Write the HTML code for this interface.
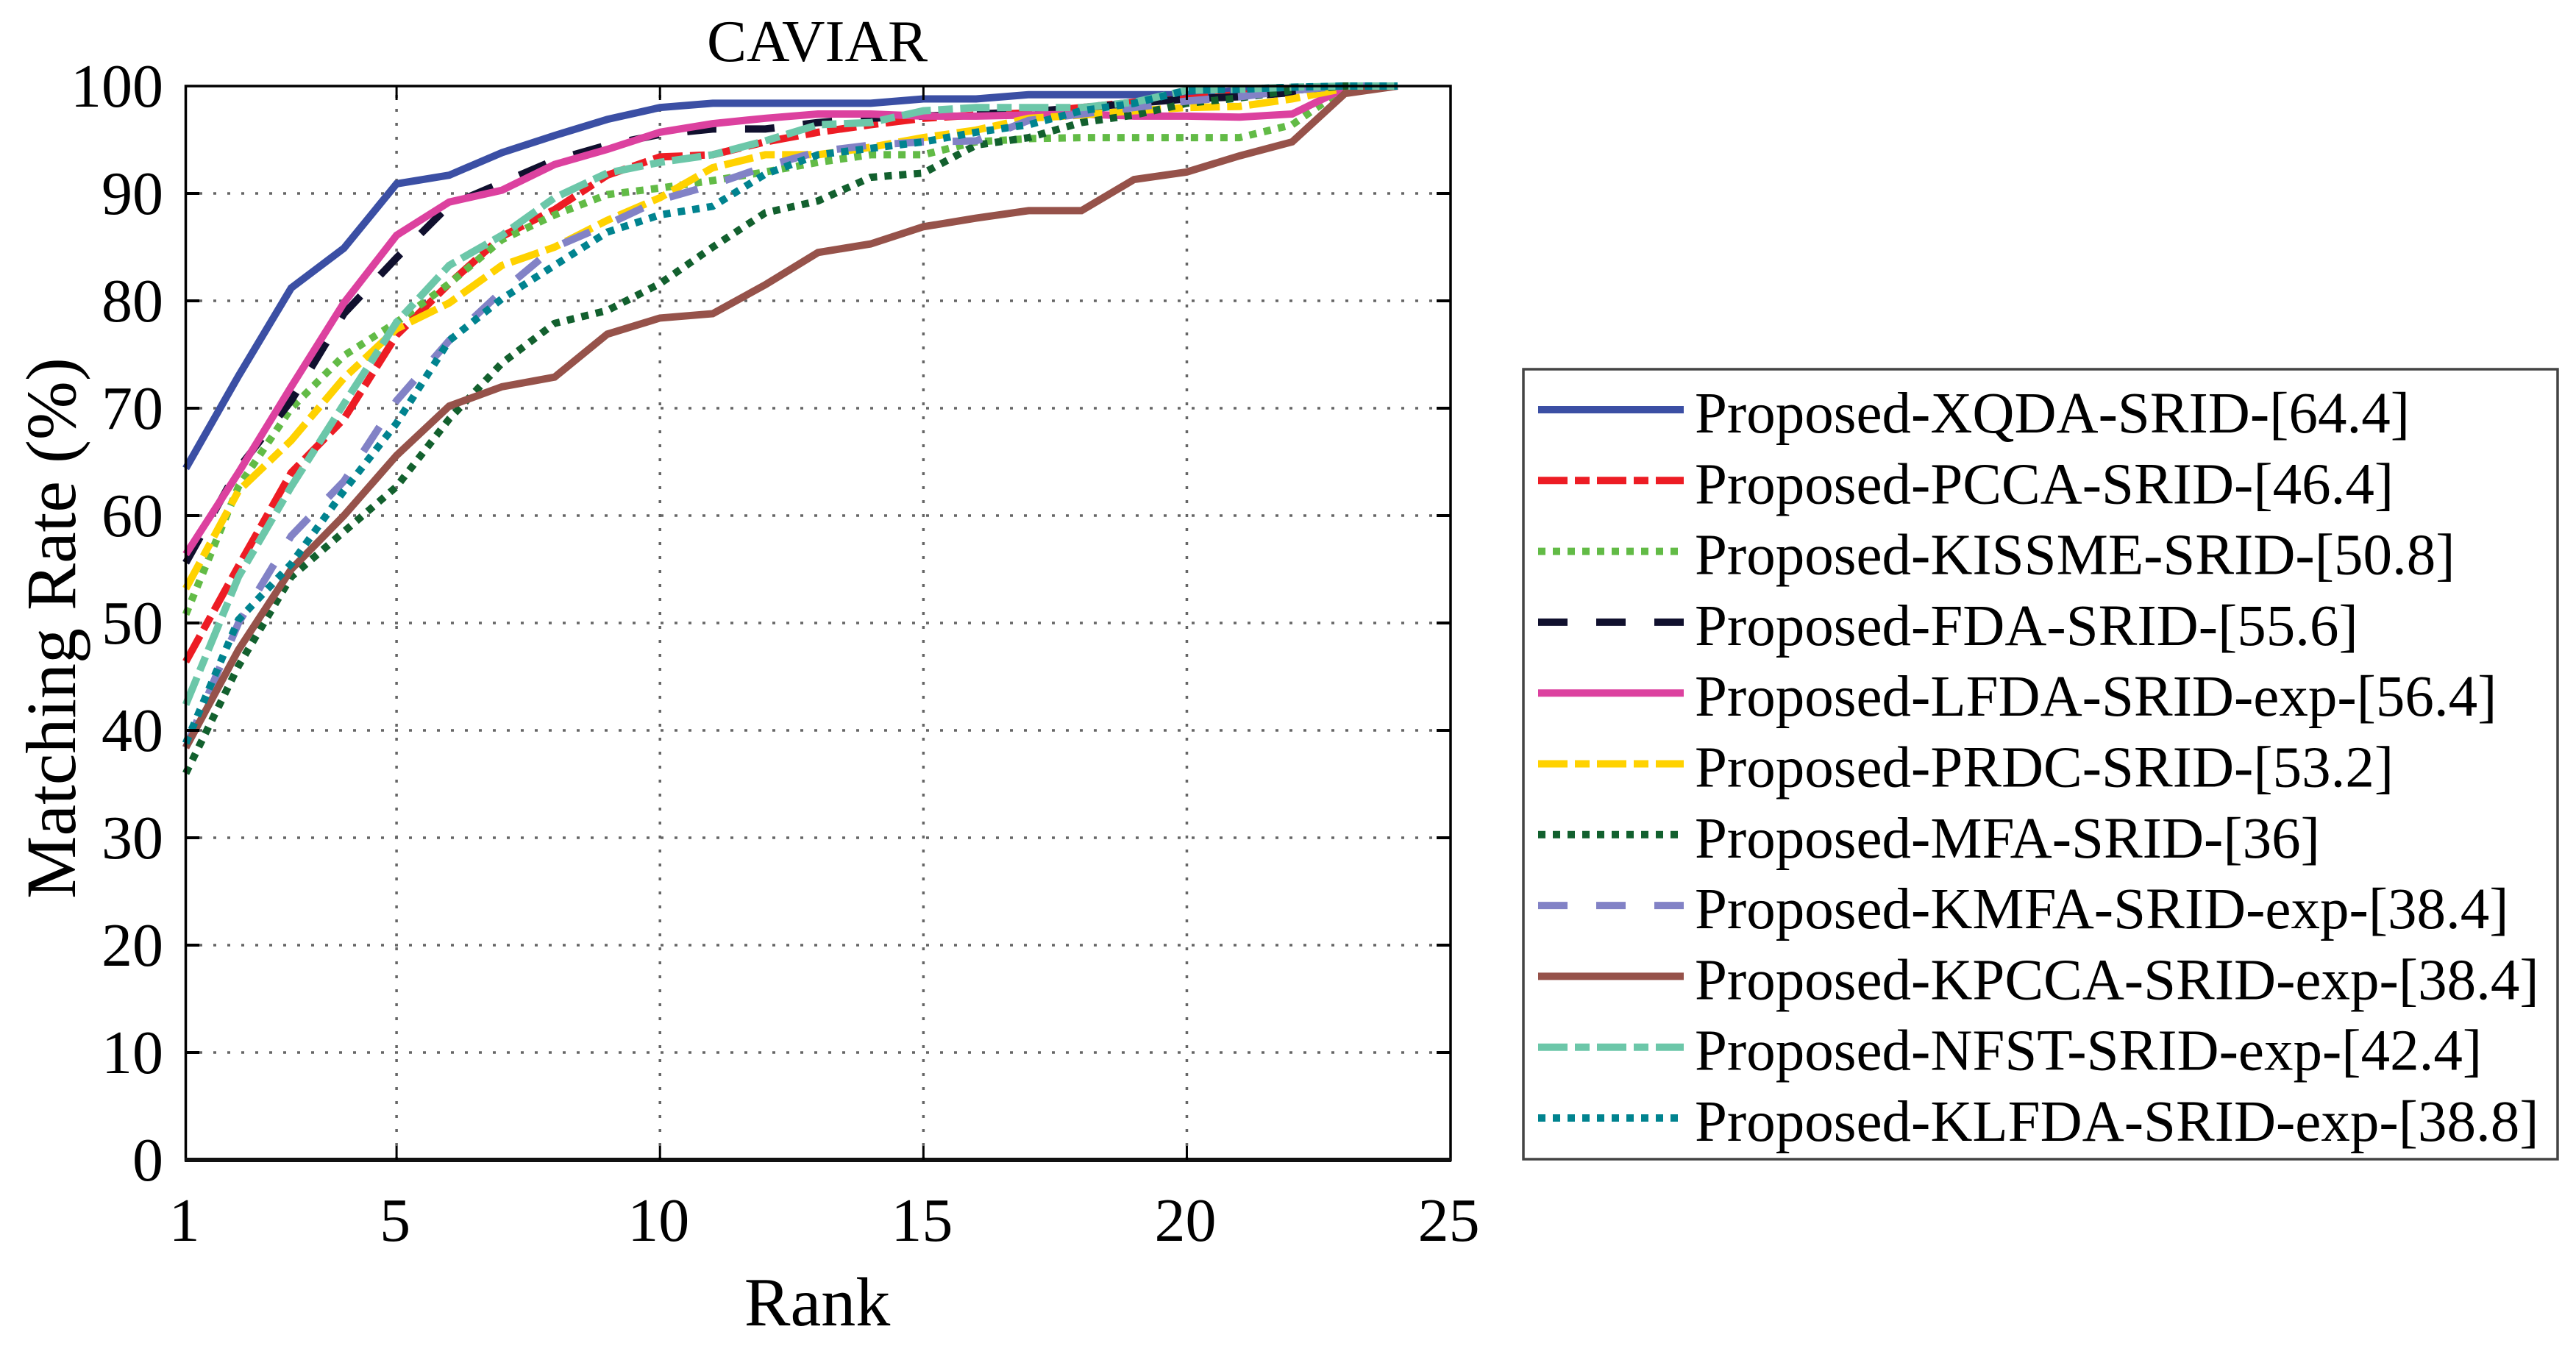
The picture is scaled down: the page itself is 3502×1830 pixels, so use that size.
<!DOCTYPE html>
<html lang="en">
<head>
<meta charset="utf-8">
<title>CAVIAR matching rate chart</title>
<style>
html,body{margin:0;padding:0;background:#fff;width:3502px;height:1830px;overflow:hidden}
svg{display:block;font-family:"Liberation Serif",serif;fill:#000}
</style>
</head>
<body>
<svg id="chart" xmlns="http://www.w3.org/2000/svg" width="3502" height="1830" viewBox="0 0 3502 1830">
  <rect x="0" y="0" width="3502" height="1830" fill="#fff"/>
  <text x="1111" y="83" font-size="81" text-anchor="middle">CAVIAR</text>
  <g id="grid"></g>
  <g id="series"></g>
  <rect x="252.5" y="117" width="1719.5" height="1460" fill="none" stroke="#000" stroke-width="3.5"/>
  <line x1="251" y1="1577" x2="1973" y2="1577" stroke="#111" stroke-width="6"/>
  <g id="ticks"></g>
  <text x="1111" y="1802" font-size="94" text-anchor="middle">Rank</text>
  <text transform="translate(102 854) rotate(-90)" font-size="96" text-anchor="middle">Matching Rate (%)</text>
  <g>
    <rect x="2071" y="502" width="1406" height="1074" fill="#fff" stroke="#444" stroke-width="3.5"/>
    <g id="legend-rows"></g>
  </g>
</svg>
<script>
var ranks = [1,2,3,4,5,6,7,8,9,10,11,12,13,14,15,16,17,18,19,20,21,22,23,24];
var xTicks = [1,5,10,15,20,25];
var yTicks = [0,10,20,30,40,50,60,70,80,90,100];

var seriesNames = ["xqda","pcca","kissme","fda","lfda","prdc","mfa","kmfa","kpcca","nfst","klfda"];

var legendLabels = [
  "Proposed-XQDA-SRID-[64.4]",
  "Proposed-PCCA-SRID-[46.4]",
  "Proposed-KISSME-SRID-[50.8]",
  "Proposed-FDA-SRID-[55.6]",
  "Proposed-LFDA-SRID-exp-[56.4]",
  "Proposed-PRDC-SRID-[53.2]",
  "Proposed-MFA-SRID-[36]",
  "Proposed-KMFA-SRID-exp-[38.4]",
  "Proposed-KPCCA-SRID-exp-[38.4]",
  "Proposed-NFST-SRID-exp-[42.4]",
  "Proposed-KLFDA-SRID-exp-[38.8]"
];

var xqda   = [64.4,73,81.2,84.9,90.9,91.7,93.8,95.4,96.9,98,98.4,98.4,98.4,98.4,98.8,98.8,99.2,99.2,99.2,99.2,99.6,99.6,100,100];
var pcca   = [46.4,55.3,64,69,76.8,81.6,86,88.5,91.7,93.4,93.6,94.8,95.7,96.4,97,97.3,97.5,98,98.5,98.8,99.2,99.6,100,100];
var kissme = [50.8,62.7,70,74.9,78,81.6,85.7,88,89.9,90.5,91.2,92,92.9,93.6,93.6,94.8,95.1,95.2,95.2,95.2,95.2,96.4,99.8,100];
var fda    = [55.6,64.4,70.7,78.8,84,88.9,91,93.1,94.5,95.5,96,96,96.6,97,97.2,97.4,97.6,98,98.4,98.8,99,99.4,100,100];
var lfda   = [56.4,64,72,79.8,86.1,89.2,90.3,92.7,94.1,95.7,96.5,97,97.4,97.4,97.2,97.2,97.3,97.4,97.2,97.2,97.1,97.4,99.8,100];
var prdc   = [53.2,62.3,67,72.8,77.4,79.8,83.3,85,87.5,89.6,92.4,93.6,93.6,94.3,95.2,95.9,97,97.3,97.7,98,98.1,98.8,99.8,100];
var mfa    = [36,46,54.3,58.5,62.7,69,74.2,77.9,79.1,81.6,85,88.2,89.3,91.5,91.9,94.5,95.2,96.6,97.3,98.4,98.9,99.6,100,100];
var kmfa   = [38.4,50,58.1,63.2,70.7,76.3,80.9,85,87.1,89.4,90.8,92.5,93.9,94.5,94.8,94.9,96.8,97.4,98,98.6,99,99.6,100,100];
var kpcca  = [38.4,47.5,55,60,65.6,70.2,72,72.9,76.9,78.4,78.8,81.5,84.5,85.3,86.9,87.7,88.4,88.4,91.3,92,93.5,94.8,99.3,100];
var nfst   = [42.4,54.3,62.7,70.4,78,83.3,86.1,89.6,91.9,92.9,93.6,94.9,96.4,96.6,97.7,98,98,98,98.5,99.6,99.7,99.9,100,100];
var klfda  = [38.8,50.3,55.5,62.3,68.6,76.3,80.2,83.3,86.4,88,88.8,91.8,93.6,94.2,94.8,95.7,96.4,97.7,98.4,99.6,99.7,99.9,100,100];

var seriesValues = [xqda,pcca,kissme,fda,lfda,prdc,mfa,kmfa,kpcca,nfst,klfda];
var seriesColors = ["#3b4fa4","#ed1c24","#62bb46","#10102e","#dc419f","#ffd200","#12602e","#8282c6","#96524a","#6cc7a9","#00838f"];
var seriesDashes = ["none","40 10 20 10","10 10","40 39","none","40 10 20 10","10 10","40 39","none","40 10 20 10","10 10"];

var SVGNS = "http://www.w3.org/2000/svg";
function xScale(rank){ return 252.6 + (rank - 1) * (1971.6 - 252.6) / 24; }
function yScale(value){ return 1577 - value * 14.6; }
function make(tag, parent, attrs){
  var el = document.createElementNS(SVGNS, tag);
  for (var k in attrs){ el.setAttribute(k, attrs[k]); }
  parent.appendChild(el);
  return el;
}

var gridG = document.getElementById("grid");
var ticksG = document.getElementById("ticks");
var seriesG = document.getElementById("series");
var legendG = document.getElementById("legend-rows");

xTicks.forEach(function(t){
  var x = xScale(t);
  if (t !== 1 && t !== 25){
    var g = make("line", gridG, {x1:x,y1:yScale(0),x2:x,y2:yScale(100),stroke:"#666","stroke-width":3.5,"stroke-dasharray":"4 15"});
    
    
    var t1 = make("line", ticksG, {x1:x,y1:yScale(100),x2:x,y2:yScale(100)+19,stroke:"#000","stroke-width":3});
    
    
    var t2 = make("line", ticksG, {x1:x,y1:yScale(0),x2:x,y2:yScale(0)-19,stroke:"#000","stroke-width":3});
    
    
  }
  var lab = make("text", ticksG, {x:x-2,y:1687,"font-size":84,"text-anchor":"middle"});
  
  
  lab.textContent = String(t);
});

yTicks.forEach(function(t){
  var y = yScale(t);
  if (t !== 0 && t !== 100){
    var g = make("line", gridG, {x1:252,y1:y,x2:1972,y2:y,stroke:"#666","stroke-width":3.5,"stroke-dasharray":"4 15"});
    
    
    var t1 = make("line", ticksG, {x1:252,y1:y,x2:271,y2:y,stroke:"#000","stroke-width":4});
    
    
    var t2 = make("line", ticksG, {x1:1972,y1:y,x2:1953,y2:y,stroke:"#000","stroke-width":4});
    
    
  }
  var lab = make("text", ticksG, {x:222,y:y+28,"font-size":84,"text-anchor":"end"});
  
  
  lab.textContent = String(t);
});

seriesValues.forEach(function(vals, i){
  var pts = vals.map(function(v, j){ return xScale(ranks[j]).toFixed(1) + "," + yScale(v).toFixed(1); }).join(" ");
  var line = make("polyline", seriesG, {points:pts,fill:"none",stroke:seriesColors[i],"stroke-width":10,"stroke-linejoin":"miter","stroke-dasharray":seriesDashes[i]});
  
  
});

legendLabels.forEach(function(label, i){
  var rowY = 557 + i * 96.3;
  var sample = make("line", legendG, {x1:2091,y1:rowY,x2:2289,y2:rowY,stroke:seriesColors[i],"stroke-width":10,"stroke-dasharray":seriesDashes[i]});
  
  
  var txt = make("text", legendG, {x:2304,y:rowY+31,"font-size":79});
  
  
  txt.textContent = label;
});
</script>
</body>
</html>
